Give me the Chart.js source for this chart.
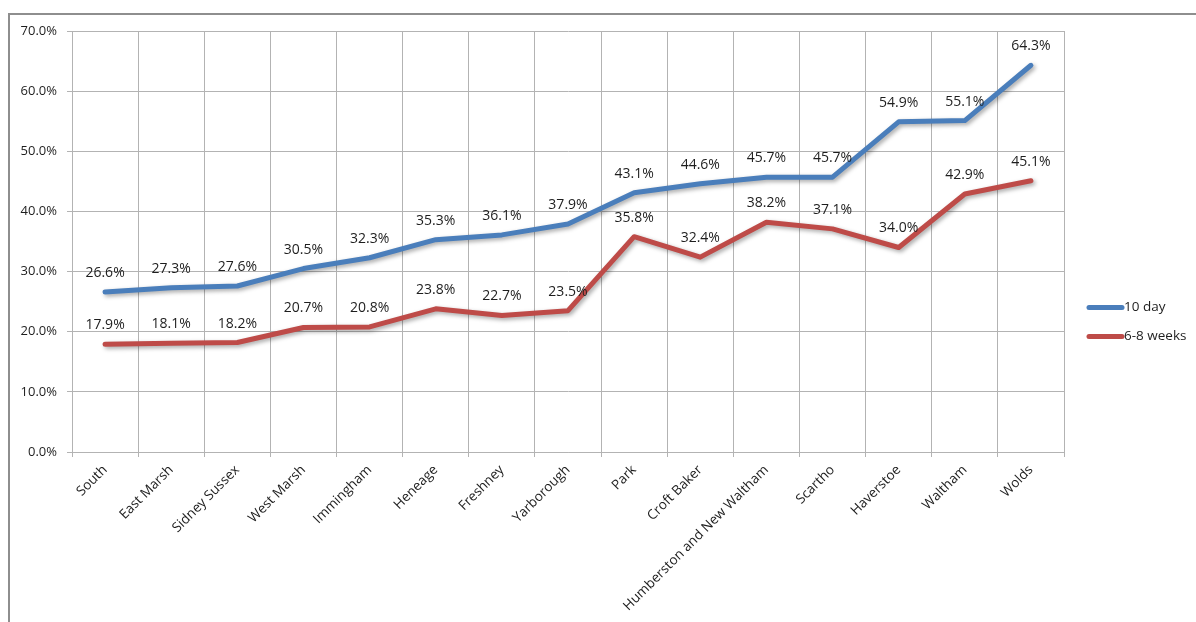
<!DOCTYPE html>
<html>
<head>
<meta charset="utf-8">
<script src="https://cdn.jsdelivr.net/npm/chart.js@4/dist/chart.umd.min.js"></script>
<style>
    html, body { margin: 0; padding: 0; background: #fff; overflow: hidden; }
    #wrap { position: relative; width: 1196px; height: 622px; }
    #frame { position: absolute; left: 8px; top: 13px; width: 1300px; height: 700px; border: 2px solid #8e8e8e; }
    canvas { position: absolute; left: 0; top: 0; }
</style>
</head>
<body>
<div id="wrap">
    <div id="frame"></div>
    <canvas id="lineChart" width="1196" height="622"></canvas>
</div>
<script>
// chart data
const wards = ['South', 'East Marsh', 'Sidney Sussex', 'West Marsh', 'Immingham', 'Heneage', 'Freshney',
    'Yarborough', 'Park', 'Croft Baker', 'Humberston and New Waltham', 'Scartho', 'Haverstoe', 'Waltham', 'Wolds'];
const tenDay = [26.6, 27.3, 27.6, 30.5, 32.3, 35.3, 36.1, 37.9, 43.1, 44.6, 45.7, 45.7, 54.9, 55.1, 64.3];
const sixEightWeeks = [17.9, 18.1, 18.2, 20.7, 20.8, 23.8, 22.7, 23.5, 35.8, 32.4, 38.2, 37.1, 34.0, 42.9, 45.1];
const seriesNames = ['10 day', '6-8 weeks'];

const FONT = '"Open Sans", "Liberation Sans", sans-serif';
const gridColor = '#b3b3b3';
const textColor = '#1e1e1e';

// soft drop shadow under the lines
const shadowPlugin = {
    id: 'lineShadow',
    beforeDatasetDraw(chart) {
        const ctx = chart.ctx;
        ctx.save();
        ctx.shadowColor = 'rgba(0,0,0,0.35)';
        ctx.shadowBlur = 4;
        ctx.shadowOffsetX = 2;
        ctx.shadowOffsetY = 2;
    },
    afterDatasetDraw(chart) {
        chart.ctx.restore();
    }
};

// value labels above each point
const valueLabels = {
    id: 'valueLabels',
    afterDatasetsDraw(chart) {
        const ctx = chart.ctx;
        ctx.save();
        ctx.font = '14px ' + FONT;
        ctx.fillStyle = textColor;
        ctx.textAlign = 'center';
        ctx.textBaseline = 'middle';
        chart.data.datasets.forEach((ds, i) => {
            chart.getDatasetMeta(i).data.forEach((pt, j) => {
                ctx.fillText(ds.data[j].toFixed(1) + '%', pt.x, pt.y - 19);
            });
        });
        ctx.restore();
    }
};

// legend on the right, drawn by hand
const sideLegend = {
    id: 'sideLegend',
    afterDraw(chart) {
        const ctx = chart.ctx;
        const x0 = chart.chartArea.right + 25;
        const yMid = (chart.chartArea.top + chart.chartArea.bottom) / 2;
        ctx.save();
        ctx.font = '13.5px ' + FONT;
        ctx.textBaseline = 'middle';
        ctx.lineCap = 'round';
        chart.data.datasets.forEach((ds, i) => {
            const y = yMid + 66 + i * 29;
            ctx.strokeStyle = ds.borderColor;
            ctx.lineWidth = 5;
            ctx.beginPath();
            ctx.moveTo(x0, y);
            ctx.lineTo(x0 + 33, y);
            ctx.stroke();
            ctx.fillStyle = textColor;
            ctx.fillText(ds.label, x0 + 35, y);
        });
        ctx.restore();
    }
};

const ctx = document.getElementById('lineChart').getContext('2d');
new Chart(ctx, {
    type: 'line',
    data: {
        labels: wards,
        datasets: [
            {
                label: seriesNames[0],
                data: tenDay,
                borderColor: '#4a7ebb',
                borderWidth: 5,
                borderCapStyle: 'round',
                borderJoinStyle: 'round',
                pointRadius: 0,
                tension: 0
            },
            {
                label: seriesNames[1],
                data: sixEightWeeks,
                borderColor: '#be4b48',
                borderWidth: 5,
                borderCapStyle: 'round',
                borderJoinStyle: 'round',
                pointRadius: 0,
                tension: 0
            }
        ]
    },
    options: {
        responsive: false,
        animation: false,
        layout: { padding: { left: 0, top: 31, right: 132, bottom: 0 } },
        plugins: { legend: { display: false }, tooltip: { enabled: false } },
        scales: {
            x: {
                offset: true,
                grid: { offset: true, color: gridColor, tickLength: 5, drawTicks: true },
                border: { color: gridColor },
                ticks: {
                    color: textColor,
                    font: { family: FONT, size: 13.5 },
                    minRotation: 45,
                    maxRotation: 45,
                    autoSkip: false,
                    padding: 5
                },
                afterFit(scale) {
                    scale.height = 170;
                    scale.paddingLeft = 0;
                    scale.paddingRight = 0;
                }
            },
            y: {
                min: 0,
                max: 70,
                grid: { color: gridColor, tickLength: 5 },
                border: { color: gridColor },
                ticks: {
                    stepSize: 10,
                    color: textColor,
                    font: { family: FONT, size: 13 },
                    padding: 10,
                    callback: v => v.toFixed(1) + '%'
                },
                afterFit(scale) {
                    scale.width = 72;
                }
            }
        }
    },
    plugins: [shadowPlugin, valueLabels, sideLegend]
});
</script>
</body>
</html>
